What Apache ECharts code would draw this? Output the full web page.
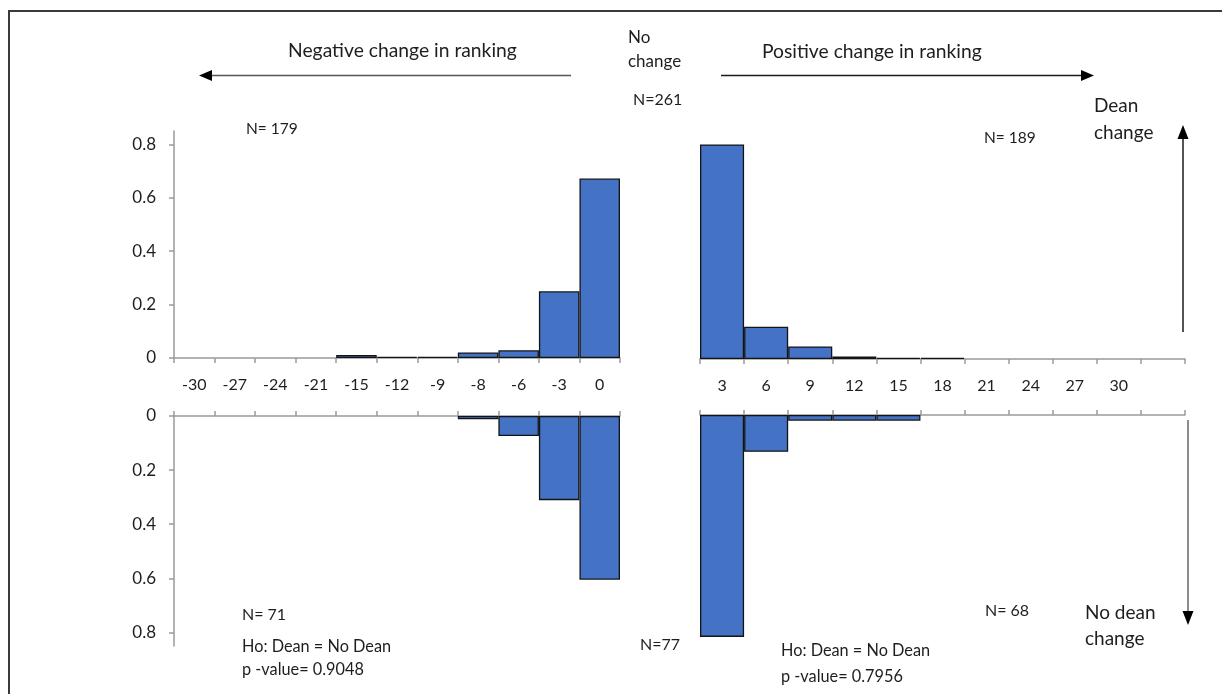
<!DOCTYPE html>
<html>
<head>
<meta charset="utf-8">
<script src="https://cdn.jsdelivr.net/npm/echarts@6/dist/echarts.min.js"></script>
<style>
html,body{margin:0;padding:0;background:#fff;}
#c{width:1222px;height:694px;}
</style>
</head>
<body>
<div id="c"></div>
<script>
// Categories (rank change bins)
var negCats = ['-30','-27','-24','-21','-15','-12','-9','-8','-6','-3','0'];
var posCats = ['3','6','9','12','15','18','21','24','27','30',''];
// Proportions, dean change (top)
var deanNeg = [0, 0, 0, 0, 0.011, 0.004, 0.004, 0.021, 0.029, 0.250, 0.672];
var deanPos = [0.800, 0.120, 0.047, 0.009, 0.004, 0.004, 0, 0, 0, 0, 0];
// Proportions, no dean change (bottom)
var noDeanNeg = [0, 0, 0, 0, 0, 0, 0, 0.012, 0.074, 0.311, 0.605];
var noDeanPos = [0.820, 0.136, 0.021, 0.021, 0.021, 0, 0, 0, 0, 0, 0];
// Y tick labels
var yTicks = [0, 0.2, 0.4, 0.6, 0.8];
var yMax = 0.85;

var FONT = 'Lato';
var TXT = '#1e1e1e';
var AX = '#9a9a9a';

function bars(v){ return v.map(function(x){ return x === 0 ? '-' : x; }); }

function xAxisCfg(grid, cats, pos, showLabel){
  return {
    gridIndex: grid, type: 'category', data: cats, position: pos,
    boundaryGap: true,
    axisLine: {show: true, onZero: false, lineStyle: {color: AX, width: 1.5}},
    axisTick: {show: true, interval: 0, length: 5, lineStyle: {color: AX, width: 1.5}},
    axisLabel: {show: showLabel, interval: 0, margin: 19, fontFamily: FONT, fontSize: 16, color: TXT},
    splitLine: {show: false}
  };
}
function yAxisCfg(grid, inverse, show){
  return {
    gridIndex: grid, type: 'value', min: 0, max: yMax, inverse: inverse, show: show,
    axisLine: {show: true, lineStyle: {color: AX, width: 1.5}},
    axisTick: {show: true, length: 5, customValues: yTicks, lineStyle: {color: AX, width: 1.5}},
    axisLabel: {show: true, customValues: yTicks, margin: 18, fontFamily: FONT, fontSize: 17, color: TXT,
      formatter: function(v){ return v === 0 ? '0' : v.toFixed(1); }},
    splitLine: {show: false}
  };
}
function barSeries(i, data){
  return {
    type: 'bar', xAxisIndex: i, yAxisIndex: i, data: bars(data),
    barCategoryGap: '0%', barGap: '0%',
    itemStyle: {color: '#4472C4', borderColor: '#141414', borderWidth: 1.3},
    silent: true, animation: false
  };
}
function txt(s, x, y, size, align){
  return {type: 'text', silent: true, style: {text: s, x: x, y: y, fontFamily: FONT, fontSize: size,
    fill: TXT, textAlign: align || 'left', textVerticalAlign: 'middle'}};
}
function line(x1, y1, x2, y2, color){
  return {type: 'line', silent: true, shape: {x1: x1, y1: y1, x2: x2, y2: y2},
    style: {stroke: color || '#1a1a1a', lineWidth: 1.5}};
}
function head(points){
  return {type: 'polygon', silent: true, shape: {points: points}, style: {fill: '#000'}};
}

var chart = echarts.init(document.getElementById('c'));
chart.setOption({
  animation: false,
  backgroundColor: '#fff',
  grid: [
    {left: 174, top: 131, width: 446, height: 227},
    {left: 700, top: 131, width: 485, height: 228},
    {left: 174, top: 416, width: 446, height: 230},
    {left: 700, top: 415, width: 485, height: 230}
  ],
  xAxis: [
    xAxisCfg(0, negCats, 'bottom', true),
    xAxisCfg(1, posCats, 'bottom', true),
    xAxisCfg(2, negCats, 'top', false),
    xAxisCfg(3, posCats, 'top', false)
  ],
  yAxis: [
    yAxisCfg(0, false, true),
    yAxisCfg(1, false, false),
    yAxisCfg(2, true, true),
    yAxisCfg(3, true, false)
  ],
  series: [
    barSeries(0, deanNeg),
    barSeries(1, deanPos),
    barSeries(2, noDeanNeg),
    barSeries(3, noDeanPos)
  ],
  graphic: [
    {type: 'rect', silent: true, shape: {x: 9, y: 11, width: 1240, height: 720},
      style: {fill: 'none', stroke: '#3a3a3a', lineWidth: 2}},
    txt('Negative change in ranking', 288, 51, 19.3),
    line(208, 75.5, 571, 75.5, '#555'),
    head([[199, 75.5], [212, 70], [212, 81]]),
    txt('No', 628, 38, 17),
    txt('change', 628, 62, 17),
    txt('N=261', 633, 100, 16),
    txt('Positive change in ranking', 762, 52, 19.3),
    line(721, 75.5, 1082, 75.5),
    head([[1094, 75.5], [1081, 70], [1081, 81]]),
    txt('Dean', 1094, 106, 19),
    txt('change', 1094, 133, 19),
    txt('N= 189', 984, 138, 15.5),
    line(1183, 332, 1183, 138),
    head([[1183, 125], [1177.5, 139], [1188.5, 139]]),
    txt('N= 179', 246, 129, 15.5),
    txt('N= 71', 242, 615, 16),
    txt('Ho: Dean = No Dean', 242, 647, 16.3),
    txt('p -value= 0.9048', 242, 670, 16.3),
    txt('N=77', 640, 645, 16),
    txt('Ho: Dean = No Dean', 781, 651, 16.3),
    txt('p -value= 0.7956', 781, 677, 16.3),
    txt('N= 68', 985, 611, 16),
    txt('No dean', 1085, 613, 19),
    txt('change', 1085, 639, 19),
    line(1188, 420, 1188, 612, '#666'),
    head([[1188, 625], [1182.5, 611], [1193.5, 611]])
  ]
});
</script>
</body>
</html>
